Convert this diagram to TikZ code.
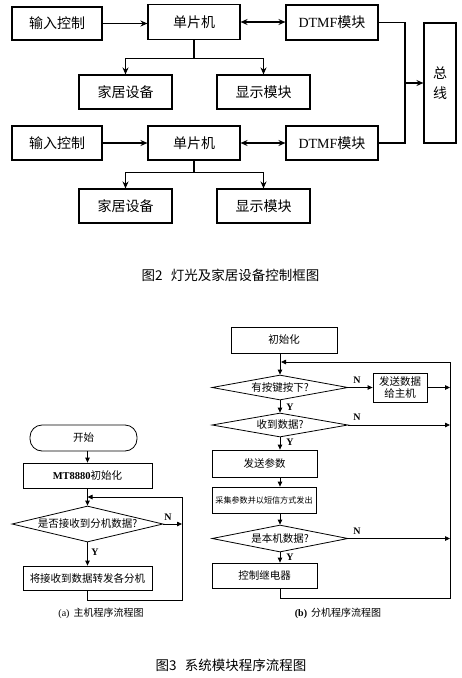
\documentclass[tikz,border=0pt]{standalone}
\usepackage{fontspec}
\setmainfont{Liberation Serif}
\newfontfamily\cjk{Noto Sans CJK SC}
\usetikzlibrary{arrows.meta,shapes.geometric}
\tikzset{
  x=1pt,y=-1pt,
  tbox/.style={draw,line width=1.1pt,inner sep=0pt,font=\fontsize{14}{16}\selectfont},
  tarr/.style={line width=1.1pt,-{Stealth[length=7pt,width=6pt]}},
  tline/.style={line width=1.1pt},
  fbox/.style={draw,line width=0.8pt,inner sep=0pt,font=\fontsize{10.5}{12}\selectfont},
  fdia/.style={draw,line width=0.8pt,diamond,inner sep=0pt,shape aspect=4},
  ftxt/.style={font=\fontsize{10.5}{12}\selectfont,inner sep=0pt},
  farr/.style={line width=0.8pt,-{Triangle[length=5pt,width=4.5pt]}},
  fline/.style={line width=0.8pt},
  yn/.style={font=\bfseries\fontsize{10}{12}\selectfont,inner sep=0pt},
  figcap/.style={font=\cjk\fontsize{13.5}{15}\selectfont,inner sep=0pt},
  subcap/.style={font=\fontsize{10}{12}\selectfont,inner sep=0pt},
}
\begin{document}
\begin{tikzpicture}
\path[use as bounding box,fill=white] (0,0) rectangle (461,678);

% ---------- Figure 2 ----------
\node[tbox,minimum width=90,minimum height=33] (in1) at (57,23.5) {\cjk 输入控制};
\node[tbox,minimum width=92,minimum height=35] (mcu1) at (194,22) {\cjk 单片机};
\node[tbox,minimum width=92,minimum height=35] (dtmf1) at (332,22.5) {DTMF{\cjk 模块}};
\node[tbox,minimum width=93,minimum height=34] (home1) at (125.5,92) {\cjk 家居设备};
\node[tbox,minimum width=93,minimum height=34] (disp1) at (263.5,92) {\cjk 显示模块};

\node[tbox,minimum width=90,minimum height=34] (in2) at (57,143) {\cjk 输入控制};
\node[tbox,minimum width=92,minimum height=34] (mcu2) at (194,143) {\cjk 单片机};
\node[tbox,minimum width=92,minimum height=34] (dtmf2) at (332,143) {DTMF{\cjk 模块}};
\node[tbox,minimum width=93,minimum height=34] (home2) at (125.5,206) {\cjk 家居设备};
\node[tbox,minimum width=93,minimum height=34] (disp2) at (263.5,206) {\cjk 显示模块};

\node[tbox,minimum width=32,minimum height=120,align=center] (bus) at (440,83) {\cjk 总\\[4pt]\cjk 线};

\draw[tarr] (in1.east) -- (in1.east -| mcu1.west);
\draw[tline,{Stealth[length=7pt,width=6pt]}-{Stealth[length=7pt,width=6pt]}] (mcu1.east) -- (mcu1.east -| dtmf1.west);
\draw[tarr] (mcu1.south) -- ++(0,18) -| (home1.north);
\draw[tarr] (mcu1.south) -- ++(0,18) -| (disp1.north);

\draw[tarr] (in2.east) -- (in2.east -| mcu2.west);
\draw[tline,{Stealth[length=7pt,width=6pt]}-{Stealth[length=7pt,width=6pt]}] (mcu2.east) -- (mcu2.east -| dtmf2.west);
\draw[tarr] (mcu2.south) -- ++(0,12) -| (home2.north);
\draw[tarr] (mcu2.south) -- ++(0,12) -| (disp2.north);

\coordinate (bj) at (405,83);
\draw[tline] (dtmf1.east) -| (bj);
\draw[tline] (dtmf2.east) -| (bj);
\draw[tarr] (bj) -- (bus.west);

\node[figcap] (cap2) at (230.5,275) {图2\hspace{0.6em}灯光及家居设备控制框图};

% ---------- Figure 3 (a) ----------
\node[draw,line width=0.8pt,rounded corners=12pt,minimum width=107,minimum height=26,inner sep=0pt,font=\fontsize{10.5}{12}\selectfont] (st) at (83.5,438) {\cjk 开始};
\node[fbox,minimum width=129,minimum height=25] (ini) at (87.5,475.5) {\textbf{MT8880}{\cjk 初始化}};
\node[fdia,minimum width=151,minimum height=36] (qa) at (87.5,524) {};
\node[ftxt] (qat) at (qa.center) {\cjk 是否接收到分机数据?};
\node[fbox,minimum width=129,minimum height=24] (fwd) at (87.5,578) {\cjk 将接收到数据转发各分机};

\coordinate (ar) at (182,497);
\coordinate (al) at (87.5,497);
\coordinate (ab) at (182,600);

\draw[farr] (st.south -| ini.north) -- (ini.north);
\draw[farr] (ini.south) -- (qa.north);
\draw[farr] (qa.east) -- (qa.east -| ar);
\draw[farr] (qa.south) -- (fwd.north);
\draw[farr] (fwd.south) |- (ab) -- (ar) -- (al);
\node[yn] (na) at (168,517) {N};
\node[yn] (ya) at (95,552) {Y};

\node[subcap] (capa) at (101,613) {(a)\hspace{0.4em}{\cjk 主机程序流程图}};

% ---------- Figure 3 (b) ----------
\coordinate (sp) at (280,340);
\node[fbox,minimum width=106,minimum height=26] (ini2) at (284,340) {\cjk 初始化};
\node[fdia,minimum width=136,minimum height=25] (qb1) at (280,387.5) {};
\node[ftxt] (qb1t) at (qb1.center) {\cjk 有按键按下?};
\node[fbox,minimum width=54,minimum height=29,align=center] (snd) at (400,387.5) {\cjk 发送数据\\\cjk 给主机};
\node[fdia,minimum width=136,minimum height=24] (qb2) at (280,425) {};
\node[ftxt] (qb2t) at (qb2.center) {\cjk 收到数据?};
\node[fbox,minimum width=105,minimum height=27] (par) at (264.5,463.5) {\cjk 发送参数};
\node[fbox,minimum width=104,minimum height=26,font=\fontsize{8.1}{10}\selectfont] (col) at (264,500) {\cjk 采集参数并以短信方式发出};
\node[fdia,minimum width=136,minimum height=27] (qb3) at (280,538.5) {};
\node[ftxt] (qb3t) at (qb3.center) {\cjk 是本机数据?};
\node[fbox,minimum width=105,minimum height=25] (rel) at (264.5,575.5) {\cjk 控制继电器};

\coordinate (rt) at (450,362);
\coordinate (rb) at (450,598);
\coordinate (rl) at (281,362);

\draw[farr] (ini2.south -| sp) -- (qb1.north);
\draw[farr] (qb1.south) -- (qb2.north);
\draw[farr] (qb2.south) -- (qb2.south |- par.north);
\draw[farr] (par.south -| sp) -- (col.north -| sp);
\draw[farr] (col.south -| sp) -- (qb3.north);
\draw[farr] (qb3.south) -- (qb3.south |- rel.north);
\draw[farr] (qb1.east) -- (snd.west);
\draw[farr] (snd.east) -- (snd.east -| rt);
\draw[farr] (qb2.east) -- (qb2.east -| rt);
\draw[farr] (qb3.east) -- (qb3.east -| rt);
\draw[farr] (rel.south -| sp) |- (rb) -- (rt) -- (rl);

\node[yn] (nb1) at (357,380) {N};
\node[yn] (yb1) at (290,407) {Y};
\node[yn] (nb2) at (357,417) {N};
\node[yn] (yb2) at (290,442) {Y};
\node[yn] (nb3) at (357,531) {N};
\node[yn] (yb3) at (290,557) {Y};

\node[subcap] (capb) at (338,613) {\textbf{(b)}\hspace{0.4em}{\cjk 分机程序流程图}};

\node[figcap] (cap3) at (231,665) {图3\hspace{0.6em}系统模块程序流程图};
\end{tikzpicture}
\end{document}
